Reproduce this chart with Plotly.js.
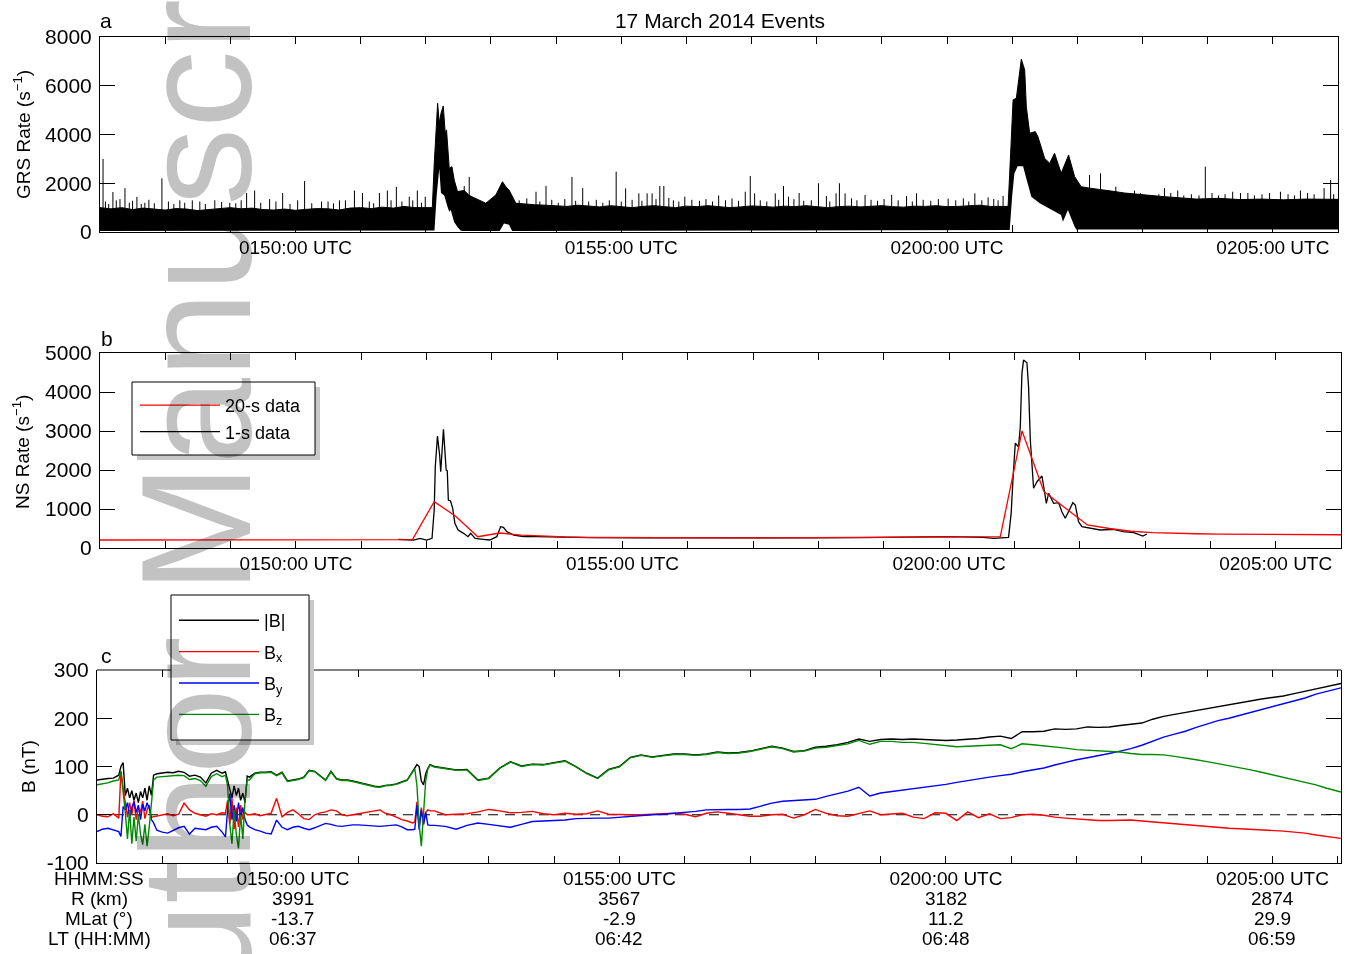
<!DOCTYPE html>
<html>
<head>
<meta charset="utf-8">
<script src="https://cdn.plot.ly/plotly-3.0.1.min.js"></script>
<style>
  html, body { margin: 0; padding: 0; overflow: hidden; background: #fff; }
  #wrap { position: relative; width: 1350px; height: 954px; overflow: hidden; }
  #chart { width: 1350px; height: 954px; }
  #mark {
    position: absolute; left: 119px; top: 1093px;
    transform-origin: 0 0; transform: rotate(-90deg);
    font-family: "Liberation Sans", Arial, sans-serif; font-size: 155px; line-height: 1;
    color: #c2c2c2; white-space: nowrap; mix-blend-mode: multiply; pointer-events: none;
  }
</style>
</head>
<body>
<div id="wrap">
  <div id="chart"></div>
  <div id="mark">Author Manuscript</div>
</div>
<script>
// Time is in seconds after 01:47:00 UTC on 17 March 2014.

// ---- x-axis ticks (one per minute, labelled every five minutes)
const minuteTicks = [0,60,120,180,240,300,360,420,480,540,600,660,720,780,840,900,960,1020,1080,1140];
const minuteLabels = ['','','','0150:00 UTC','','','','','0155:00 UTC','','','','','0200:00 UTC','','','','','0205:00 UTC',''];
// top-edge ticks of panel c (the two under the legend box are hidden by it)
const panelCTopTicks = [0,60,240,300,360,420,480,540,600,660,720,780,840,900,960,1020,1080,1140];

// ---- orbit annotations under panel c
const orbitTimes = [180, 480, 780, 1080];
const orbitR = ['3991', '3567', '3182', '2874'];
const orbitMLat = ['-13.7', '-2.9', '11.2', '29.9'];
const orbitLT = ['06:37', '06:42', '06:48', '06:59'];
const orbitRowNames = ['HHMM:SS', 'R (km)', 'MLat (\u00b0)', 'LT (HH:MM)'];

// ---- panel a: GRS count rate (upper and lower envelope of the 1-s samples, plus isolated spikes)
const grsHiT = [0,10,20,30,40,50,60,70,80,90,100,110,120,130,140,150,160,170,180,190,200,210,220,230,240,250,260,270,280,290,300,306,
  307.8,309.9,310.9,312.4,314,316.1,317.9,319.1,321.6,324.1,326.2,329.2,335.4,340,346.1,355.3,364.5,370.6,373.7,376.7,382.9,390,400,
  410,420,430,440,450,460,470,480,490,500,510,520,530,540,550,560,570,580,590,600,610,620,630,640,650,660,670,680,690,700,710,720,730,740,750,760,770,780,790,800,810,820,830,836.2,
  837.7,840.8,843.8,846,848.4,851.5,853,856.1,861.2,863.7,869.9,874.5,879,885.1,891.9,897.5,903.5,911.2,921.3,928,943.4,964.8,980,995.4,1010,1030,1050,1070,1090,1110,1130,1140];
const grsHi = [1000,950,1000,920,980,950,900,960,940,880,930,960,1000,950,980,920,900,940,890,930,960,950,900,980,1000,960,1020,980,1050,1000,1000,1000,
  2820,4600,5280,4460,4870,5170,4050,4190,2610,2680,2130,1660,1700,1500,1380,1180,1520,2060,1860,1720,1180,1150,1120,
  1100,1080,1050,1100,1060,1030,1080,1050,1000,1050,1080,1040,1000,1060,1040,1080,1050,1000,1030,1070,1050,1020,1060,1040,1080,1050,1000,1040,1060,1030,1050,1080,1040,1020,1060,1050,1080,1040,1050,1070,1100,1050,1050,1050,
  2410,5420,5490,6240,7090,6650,5140,4050,4120,3910,3020,2820,3230,2410,3160,2270,1860,1800,1750,1700,1600,1500,1450,1400,1350,1380,1330,1350,1320,1350,1330,1340];
const grsLoT = [0,306,308,310,312.4,314,317,320,321.6,323,326,329,332,334,368,372,376.7,379.5,836,837.7,840,842,845,850,853,857.6,865.3,872.9,885,886.7,891.3,897.5,899,1140];
const grsLo = [40,40,60,1500,2600,1600,1500,1040,830,900,420,220,60,40,40,350,300,40,50,80,1500,2400,2700,2700,2200,1450,1180,1000,700,420,900,220,100,100];
// tall isolated spikes
const grsSpikeT = [2.8,11.9,18.4,23,34,41.3,57,73.5,91.9,105.7,119.5,135,142.4,156.2,168.2,188.4,204,220.5,234.3,241.7,257.3,264.6,272.9,284.8,292.2,299.5,
  335.4,340,401.5,410.7,434.6,444.5,475.3,484,496.2,503.8,508.4,515.5,519.2,523.8,538.5,569.7,594.2,598.8,602.8,621.8,629.4,634,643.8,661.6,668.9,677.8,680.9,686.1,704.5,729,742.7,751.9,781,805.6,817.8,831.6,
  911.2,921.3,935.4,952.6,980.2,992.4,1017.8,1043,1050.2,1087,1105.4,1127.2,1133.2];
const grsSpikeV = [3000,1640,1350,1800,1440,1200,2200,1300,1250,1300,1200,1600,1700,1350,1600,2090,1250,1300,1700,1600,1600,1700,1850,1450,1700,1450,
  1890,2260,1650,1890,2260,1800,2475,1790,1585,1585,1585,1887,1887,1400,1450,1500,1655,2300,1585,1585,1887,1450,1600,2000,1480,1585,2000,1585,1520,1520,1480,1585,1370,1585,1420,1480,
  2340,2410,1860,1700,1800,1700,2680,1650,1600,1650,1700,1800,2134];
// small spikes fringing the top of the dense band
const grsFringeT = [5,8,15,27,30,38,45,50,63,68,78,85,97,112,125,130,148,162,175,182,195,210,215,226,248,252,268,278,288,296,
  386,393,405,416,422,428,438,450,457,463,469,480,490,499,512,528,533,545,552,558,564,576,582,588,608,614,625,639,648,655,672,692,697,710,716,722,735,748,758,765,772,788,795,800,812,823,827,
  905,915,926,940,947,958,968,975,986,998,1005,1012,1024,1030,1036,1057,1063,1070,1077,1094,1100,1112,1118,1136];
const grsFringeV = [1250,1150,1300,1200,1280,1150,1320,1180,1250,1150,1200,1300,1150,1230,1180,1300,1200,1250,1150,1300,1180,1250,1180,1300,1250,1180,1300,1250,1300,1200,
  1300,1380,1250,1320,1200,1350,1280,1250,1320,1200,1300,1250,1320,1280,1350,1300,1250,1320,1280,1350,1250,1300,1380,1280,1300,1250,1320,1350,1280,1300,1250,1380,1300,1320,1280,1350,1300,1250,1320,1280,1350,1300,1380,1250,1300,1350,1300,
  1700,1650,1600,1550,1500,1600,1500,1550,1600,1500,1550,1500,1600,1500,1550,1600,1500,1550,1600,1550,1500,1600,1550,1550];

// ---- panel b: NS count rate
const ns20T = [-13,7,27,47,67,87,107,127,147,167,187,207,227,247,267,287,307,327,347,367,387,407,427,447,467,487,507,527,547,567,587,607,
  627,647,667,687,707,727,747,767,787,807,827,847,867,887,907,927,947,967,987,1007,1027,1047,1067,1087,1107,1127,1147];
const ns20V = [205,205,205,205,206,206,207,207,208,208,209,209,210,210,211,215,1190,810,290,385,330,300,285,275,270,268,265,262,260,258,258,258,
  260,262,264,266,268,270,272,275,278,282,290,3000,1450,1020,590,500,430,395,375,365,358,352,348,345,342,340,338];
const ns1T = [274,280,288,294,300,305,307,308,310,312,313,315.5,317,318,319,320,322,324,326,329,334,338,340.5,344.6,352,358,364.5,368,370.6,373.7,380,389,401,420,
  450,500,550,600,650,700,750,781,811.6,821,834.6,837,839,840.8,843.8,845.4,846.9,848.4,851.5,853,854.6,857.6,860.7,865.3,867.4,869.3,871.4,876,880.6,883.6,886.7,890.6,893.7,895.9,898.9,902,909.7,918.9,931,940,949.5,958,961.7];
const ns1V = [223,215,205,248,205,248,974,2085,2872,2385,1957,3043,2513,2000,1982,1231,1205,1018,633,462,376,290,376,248,223,205,290,547,530,419,333,290,290,273,
  265,258,255,258,262,268,275,290,273,248,273,889,1915,2684,2598,3110,4479,4820,4751,4136,2769,1531,1700,1846,1487,1146,1402,1146,1162,931,761,974,1162,1103,675,547,504,462,479,419,393,308,359];

// ---- panel c: magnetic field (nT)
const bT = [0,5,10,15,20,22,24,26,28,30,32,34,36,38,40,42,44,46,48,50,52,55,60,65,70,75,80,85,90,95,100,105,110,115,118,
  120,122,124,126,128,130,132,134,136,138,140,145,150,155,160,165,170,175,180,185,190,195,200,205,210,215,220,225,230,235,240,245,250,255,260,265,270,275,280,285,290,
  292,294,296,298,300,302,304,306,
  310,320,330,340,350,360,370,380,390,400,410,420,430,440,450,460,470,480,490,500,510,520,530,540,550,560,570,580,590,600,610,620,630,640,650,660,670,680,690,700,
  710,720,730,740,750,760,770,780,790,800,810,820,830,840,850,860,870,880,890,900,910,920,930,940,950,960,970,980,990,1000,1010,1020,1030,1040,1050,1060,1070,1080,1090,1100,1110,1120,1130,1140,1143];
const bMag = [72,74,75,76,82, 100,108,40,55,35,50,30,45,25,48,35,55,30,60,40,82, 85,86,88,87,90,88,80,82,78,66,86,92,86, 89,
  70,50,35,60,40,55,30,45,25,80,78, 86,88,88,89,82,88,70,72,74,78,92,90,80,72,90,75,72,72,70,67,65,62,59,58,61,62,64,68,72,90,
  96,104,100,70,62,85,96,104,
  100,96,93,94,72,76,97,110,101,105, 104,108,112,100,86,76,94,100,119,124, 120,123,126,126,124,126,130,128,129,132,
  137,142,138,131,133,140,142,145,150,157, 152,156,157,156,157,156,154,154,155,156, 158,161,163,158,172,172,173,178,177,178,
  182,181,182,185,188,190,198,204,208,212, 216,221,225,229,233,236,240,243,246,251, 256,261,266,270,272];
const bX = [0,-3,-4,2,-7, 90,55,20,-5,25,0,30,-10,15,5,28,-8,10,20,-5,-4, -2,0,2,-2,1,24,10,3,0,-3,2,0,4, 3,
  30,-20,35,-30,15,-25,20,-10,5,0,0, 2,-2,0,3,34,-4,5,10,2,-8,-10,0,4,6,10,8,0,-2,0,2,3,5,8,10,3,0,-5,-10,-13,-17,
  -15,27,-24,15,-20,5,10,8,
  8,0,1,2,6,11,8,4,5,7, 2,0,3,1,2,8,1,0,0,0, 1,2,3,1,-4,3,6,3,0,-3,
  -3,0,1,-7,0,11,3,-2,-3,2, 8,0,1,3,-5,-8,4,3,-12,6, -6,2,-8,-6,0,1,-1,-5,-7,-9,
  -11,-12,-12,-11,-11,-13,-15,-17,-19,-21, -23,-24,-26,-28,-29,-30,-31,-32,-34,-36, -38,-42,-45,-48,-49];
const bY = [-35,-30,-28,-32,-35, -45,17,10,25,-5,15,27,5,20,-10,22,8,25,13,-10,-17, -32,-36,-38,-32,-27,-24,-40,-28,-30,-31,-26,-24,-36, -46,
  10,44,-10,20,-14,25,-5,15,-10,-21,-25, -31,-34,-38,-40,-11,-26,-31,-26,-24,-28,-31,-27,-22,-18,-20,-23,-24,-22,-21,-21,-22,-23,-24,-24,-23,-22,-21,-25,-31,-31,
  -30,20,-31,10,-20,5,-21,-22,
  -22,-24,-30,-22,-17,-20,-23,-26,-20,-14, -13,-12,-11,-8,-7,-7,-7,-5,-3,-1, 0,1,3,4,7,10,11,11,11,12,
  18,24,28,29,30,32,38,44,49,57, 39,45,48,51,53,56,60,63,67,71, 74,78,81,84,89,93,97,103,109,114,
  118,122,127,132,137,144,153,161,167,173, 181,188,195,200,206,212,218,224,229,236, 242,250,256,261,263];
const bZ = [62,64,66,70,72, 90,50,5,-50,10,-60,-5,-55,0,-40,-62,-20,-65,-25,20,72, 78,79,80,80,82,81,73,75,71,59,79,85,79, 82,
  60,-20,-60,10,-40,-70,0,-50,30,72,72, 85,87,87,88,81,87,69,71,73,77,91,89,79,71,89,74,71,71,69,66,64,61,58,57,60,61,63,67,71,89,
  95,60,-20,-65,10,70,95,103,
  99,95,92,93,71,75,96,109,100,104, 103,107,111,99,85,75,93,99,118,123, 119,122,125,125,123,125,129,127,128,131,
  136,141,137,130,132,138,140,143,147,154, 146,152,152,150,150,148,146,144,141,142, 143,144,145,137,147,145,143,141,138,135,
  134,133,132,130,127,125,125,124,121,118, 114,110,106,102,97,93,88,83,78,73, 67,62,55,49,47];

// ---- figure geometry (pixels of the 1350 x 954 page)
const W = 1350, H = 954;
const px = v => v / W;
const py = v => 1 - v / H;
const FONT = 'Liberation Sans, Arial, Helvetica, sans-serif';

// spikes drawn as vertical strokes rising out of the dense band
const SPIKE_BASE = 800;
function strokes(ts, vs) {
  const sx = [], sy = [];
  ts.forEach((t, i) => { sx.push(t, t, null); sy.push(SPIKE_BASE, vs[i], null); });
  return { sx, sy };
}
const tall = strokes(grsSpikeT, grsSpikeV);
const fringe = strokes(grsFringeT, grsFringeV);

const traces = [
  { x: grsLoT, y: grsLo, xaxis: 'x', yaxis: 'y', mode: 'lines', line: { width: 0, color: 'black' }, showlegend: false },
  { x: grsHiT, y: grsHi, xaxis: 'x', yaxis: 'y', mode: 'lines', fill: 'tonexty', fillcolor: 'black', line: { width: 1, color: 'black' }, showlegend: false },
  { x: fringe.sx, y: fringe.sy, xaxis: 'x', yaxis: 'y', mode: 'lines', line: { width: 1, color: 'black' }, showlegend: false },
  { x: tall.sx, y: tall.sy, xaxis: 'x', yaxis: 'y', mode: 'lines', line: { width: 1, color: 'black' }, showlegend: false },

  { x: ns1T, y: ns1V, xaxis: 'x2', yaxis: 'y2', mode: 'lines', name: '1-s data', legend: 'legend', legendrank: 2, line: { width: 1.3, color: 'black' } },
  { x: ns20T, y: ns20V, xaxis: 'x2', yaxis: 'y2', mode: 'lines', name: '20-s data', legend: 'legend', legendrank: 1, line: { width: 1.3, color: '#ff0000' } },

  { x: bT, y: bMag, xaxis: 'x3', yaxis: 'y3', mode: 'lines', name: '|B|', legend: 'legend2', legendgroup: 'm', line: { width: 1.4, color: 'black' } },
  { x: bT, y: bX, xaxis: 'x3', yaxis: 'y3', mode: 'lines', name: 'B<sub>x</sub>', legend: 'legend2', legendgroup: 'bx', line: { width: 1.4, color: '#ff0000' } },
  { x: bT, y: bY, xaxis: 'x3', yaxis: 'y3', mode: 'lines', name: 'B<sub>y</sub>', legend: 'legend2', legendgroup: 'by', line: { width: 1.4, color: '#0000ff' } },
  { x: bT, y: bZ, xaxis: 'x3', yaxis: 'y3', mode: 'lines', name: 'B<sub>z</sub>', legend: 'legend2', legendgroup: 'bz', line: { width: 1.4, color: '#008a00' } },
  // carrier for the top-edge ticks of panel c
  { x: [], y: [], xaxis: 'x4', yaxis: 'y3', mode: 'lines', showlegend: false }
];

function xAxis(domain, range, labels) {
  return {
    domain: domain, range: range, type: 'linear',
    tickmode: 'array', tickvals: minuteTicks, ticktext: labels,
    ticks: 'inside', ticklen: 7, tickwidth: 1, tickcolor: 'black', ticklabelstandoff: -2,
    showline: true, linecolor: 'black', linewidth: 1, mirror: 'ticks',
    showgrid: false, zeroline: false, tickfont: { size: 19, color: 'black' }
  };
}
function yAxis(domain, range, vals) {
  return {
    domain: domain, range: range,
    tickmode: 'array', tickvals: vals, ticktext: vals.map(String),
    ticks: 'inside', ticklen: 15, tickwidth: 1, tickcolor: 'black', ticklabelstandoff: 3,
    showline: true, linecolor: 'black', linewidth: 1, mirror: 'ticks',
    showgrid: false, zeroline: false, tickfont: { size: 21, color: 'black' }
  };
}

const annotations = [
  { text: 'a', x: px(106), y: py(21), xref: 'paper', yref: 'paper', showarrow: false, font: { size: 21 }, xanchor: 'center', yanchor: 'middle' },
  { text: 'b', x: px(107), y: py(338), xref: 'paper', yref: 'paper', showarrow: false, font: { size: 21 }, xanchor: 'center', yanchor: 'middle' },
  { text: 'c', x: px(106), y: py(655), xref: 'paper', yref: 'paper', showarrow: false, font: { size: 21 }, xanchor: 'center', yanchor: 'middle' },
  // y-axis titles
  { text: 'GRS Rate (s<sup>\u22121</sup>)', x: px(22), y: py(135), xref: 'paper', yref: 'paper', showarrow: false, textangle: -90, font: { size: 19 }, xanchor: 'center', yanchor: 'middle' },
  { text: 'NS Rate (s<sup>\u22121</sup>)', x: px(21), y: py(452), xref: 'paper', yref: 'paper', showarrow: false, textangle: -90, font: { size: 19 }, xanchor: 'center', yanchor: 'middle' },
  { text: 'B (nT)', x: px(28), y: py(767), xref: 'paper', yref: 'paper', showarrow: false, textangle: -90, font: { size: 19 }, xanchor: 'center', yanchor: 'middle' }
];
const rowY = [878, 898, 918, 938];
orbitRowNames.forEach((t, i) => annotations.push({
  text: t, x: px(99), y: py(rowY[i]), xref: 'paper', yref: 'paper', showarrow: false,
  font: { size: 19 }, xanchor: 'center', yanchor: 'middle'
}));
[orbitR, orbitMLat, orbitLT].forEach((row, r) => row.forEach((t, i) => annotations.push({
  text: t, x: orbitTimes[i], y: py(rowY[r + 1]), xref: 'x3', yref: 'paper', showarrow: false,
  font: { size: 19 }, xanchor: 'center', yanchor: 'middle'
})));

function box(x0, y0, x1, y1) {
  return [
    { type: 'rect', xref: 'paper', yref: 'paper', x0: px(x0 + 5), x1: px(x1 + 5), y0: py(y1 + 5), y1: py(y0 + 5), fillcolor: '#c8c8c8', line: { width: 0 }, layer: 'below' },
    { type: 'rect', xref: 'paper', yref: 'paper', x0: px(x0), x1: px(x1), y0: py(y1), y1: py(y0), fillcolor: 'white', line: { width: 1, color: 'black' }, layer: 'below' }
  ];
}

const layout = {
  width: W, height: H,
  margin: { l: 0, r: 0, t: 0, b: 0 },
  paper_bgcolor: 'white', plot_bgcolor: 'rgba(0,0,0,0)',
  font: { family: FONT, color: 'black', size: 19 },
  title: { text: '17 March 2014 Events', x: px(720), y: py(21), xref: 'paper', yref: 'paper', xanchor: 'center', yanchor: 'middle', font: { size: 21 } },
  showlegend: true, hovermode: false,

  xaxis: xAxis([px(100), px(1338)], [0, 1140], minuteLabels),
  yaxis: Object.assign(yAxis([py(232), py(37)], [0, 8000], [0, 2000, 4000, 6000, 8000]), { anchor: 'x' }),
  xaxis2: Object.assign(xAxis([px(100), px(1341)], [0, 1140], minuteLabels), { anchor: 'y2' }),
  yaxis2: Object.assign(yAxis([py(548), py(353)], [0, 5000], [0, 1000, 2000, 3000, 4000, 5000]), { anchor: 'x2' }),
  xaxis3: Object.assign(xAxis([px(97), px(1341)], [0, 1143], minuteLabels), { anchor: 'y3', mirror: false }),
  xaxis4: {
    overlaying: 'x3', anchor: 'y3', side: 'top', range: [0, 1143], type: 'linear',
    tickmode: 'array', tickvals: panelCTopTicks, showticklabels: false,
    ticks: 'inside', ticklen: 7, tickwidth: 1, tickcolor: 'black',
    showline: false, showgrid: false, zeroline: false
  },
  yaxis3: Object.assign(yAxis([py(863), py(670)], [-100, 300], [-100, 0, 100, 200, 300]), { anchor: 'x3' }),

  legend: {
    x: px(135), y: py(387), xanchor: 'left', yanchor: 'top', xref: 'paper', yref: 'paper',
    bgcolor: 'rgba(0,0,0,0)', borderwidth: 0,
    font: { size: 18 }, itemwidth: 80, traceorder: 'normal'
  },
  legend2: {
    x: px(174), y: py(602), xanchor: 'left', yanchor: 'top', xref: 'paper', yref: 'paper',
    bgcolor: 'rgba(0,0,0,0)', borderwidth: 0,
    font: { size: 18 }, itemwidth: 80, traceorder: 'grouped', tracegroupgap: 5
  },

  shapes: [
    // top edge of panel c (interrupted by the legend box drawn over it)
    { type: 'line', xref: 'paper', yref: 'paper', x0: px(97), x1: px(1341), y0: py(670), y1: py(670), layer: 'below', line: { color: 'black', width: 1 } },
    // zero reference in panel c
    { type: 'line', xref: 'x3 domain', yref: 'y3', x0: 0, x1: 1, y0: 0, y1: 0, layer: 'below', line: { color: 'black', width: 1, dash: '10px,7px' } }
  ].concat(box(132, 382, 315, 455), box(171, 595, 309, 740)),
  annotations: annotations
};

Plotly.newPlot('chart', traces, layout, { displayModeBar: false, staticPlot: true });
</script>
</body>
</html>
